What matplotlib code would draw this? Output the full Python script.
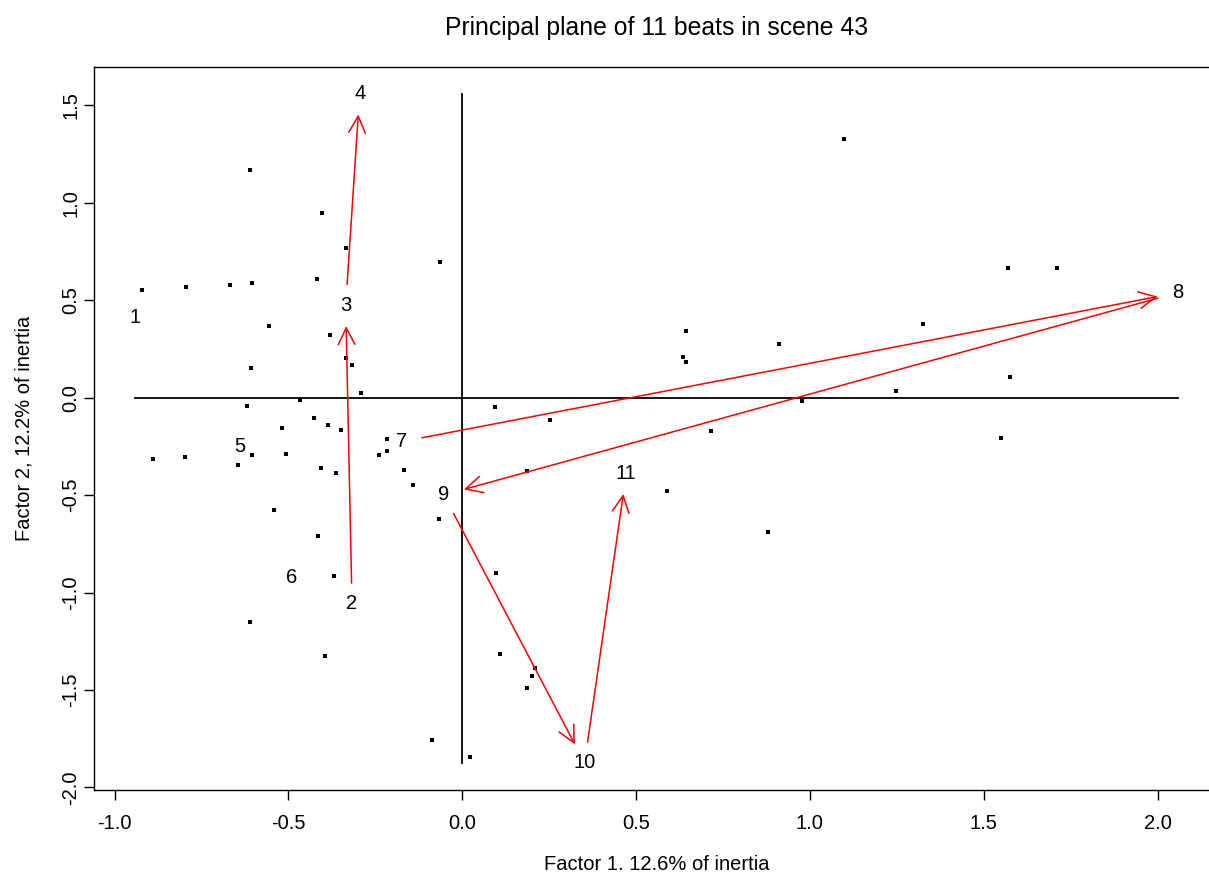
import matplotlib
matplotlib.use("Agg")
import matplotlib.pyplot as plt

plt.rcParams['font.family'] = ['Liberation Sans', 'DejaVu Sans']

# beat positions on the principal plane (label centres)
beat_x = [-0.940, -0.317, -0.335, -0.295, -0.640, -0.490, -0.175, 2.059, -0.053, 0.352, 0.472]
beat_y = [0.410, -1.058, 0.474, 1.560, -0.251, -0.922, -0.226, 0.539, -0.499, -1.873, -0.388]
beat_labels = [str(i + 1) for i in range(len(beat_x))]

# successive beats joined by an arrow (1-based beat numbers)
arrow_pairs = [(2, 3), (3, 4), (7, 8), (8, 9), (9, 10), (10, 11)]

# supplementary points (small black squares)
pts_x = [-0.921, -0.795, -0.668, -0.605, -0.611, -0.403, -0.334, -0.418, -0.064, -0.556,
         -0.380, -0.334, -0.317, -0.608, -0.291, -0.467, -0.619, -0.426, -0.519, -0.386,
         -0.349, -0.890, -0.798, -0.605, -0.507, -0.645, -0.406, -0.363, -0.216, -0.216,
         -0.239, -0.167, -0.142, -0.542, -0.067, -0.415, -0.369, -0.611, -0.395, -0.087,
         0.022, 0.094, 0.253, 0.716, 0.186, 0.589, 0.880, 0.097, 0.109, 0.209,
         0.201, 0.186, 1.098, 0.644, 0.911, 0.635, 0.644, 1.247, 0.977, 1.570,
         1.710, 1.325, 1.575, 1.549]
pts_y = [0.553, 0.568, 0.578, 0.588, 1.168, 0.948, 0.768, 0.609, 0.696, 0.368,
         0.322, 0.204, 0.168, 0.152, 0.024, -0.012, -0.045, -0.104, -0.155, -0.140,
         -0.166, -0.315, -0.304, -0.294, -0.289, -0.345, -0.361, -0.386, -0.212, -0.273,
         -0.294, -0.371, -0.448, -0.576, -0.622, -0.710, -0.915, -1.151, -1.325, -1.756,
         -1.843, -0.048, -0.114, -0.171, -0.376, -0.479, -0.689, -0.899, -1.315, -1.387,
         -1.428, -1.489, 1.326, 0.341, 0.274, 0.207, 0.182, 0.033, -0.018, 0.664,
         0.664, 0.377, 0.105, -0.208]

xticks = [-1.0, -0.5, 0.0, 0.5, 1.0, 1.5, 2.0]
xtick_labels = ["-1.0", "-0.5", "0.0", "0.5", "1.0", "1.5", "2.0"]
yticks = [-2.0, -1.5, -1.0, -0.5, 0.0, 0.5, 1.0, 1.5]
ytick_labels = ["-2.0", "-1.5", "-1.0", "-0.5", "0.0", "0.5", "1.0", "1.5"]

title = "Principal plane of 11 beats in scene 43"
xlabel = "Factor 1. 12.6% of inertia"
ylabel = "Factor 2, 12.2% of inertia"

fs = 14.5

fig = plt.figure(figsize=(12.09, 8.72), dpi=100)
ax = fig.add_axes([0.0775, 0.0946, 0.9314, 0.8287])

# R-style limits: data range of the beats plus 4% on each side
xr = max(beat_x) - min(beat_x)
yr = max(beat_y) - min(beat_y)
ax.set_xlim(min(beat_x) - 0.04 * xr, max(beat_x) + 0.04 * xr)
ax.set_ylim(min(beat_y) - 0.04 * yr, max(beat_y) + 0.04 * yr)

# axes through the origin, spanning the beats
ax.plot([min(beat_x), max(beat_x)], [0, 0], color='black', lw=1.3)
ax.plot([0, 0], [min(beat_y), max(beat_y)], color='black', lw=1.3)

ax.scatter(pts_x, pts_y, marker='s', s=7, color='black', linewidths=0, zorder=3)

for a, b in arrow_pairs:
    ax.annotate('', xy=(beat_x[b - 1], beat_y[b - 1]), xytext=(beat_x[a - 1], beat_y[a - 1]),
                arrowprops=dict(arrowstyle='->,head_length=1.2,head_width=0.6',
                                color='red', lw=1.1, shrinkA=15, shrinkB=15,
                                mutation_scale=10))

for x, y, lab in zip(beat_x, beat_y, beat_labels):
    ax.text(x, y, lab, ha='center', va='center', fontsize=fs)

ax.set_xticks(xticks)
ax.set_xticklabels(xtick_labels, fontsize=fs)
ax.set_yticks(yticks)
ax.set_yticklabels(ytick_labels, fontsize=fs, rotation=90, va='center')
ax.tick_params(axis='x', length=7.5, width=1.0, pad=10)
ax.tick_params(axis='y', length=7.5, width=1.0, pad=2)
for sp in ax.spines.values():
    sp.set_linewidth(1.0)
ax.spines['right'].set_visible(False)

ax.set_title(title, fontsize=17.8, pad=23)
ax.set_xlabel(xlabel, fontsize=fs, labelpad=16)
ax.set_ylabel(ylabel, fontsize=fs, labelpad=20)

fig.savefig("out.png", dpi=100)
